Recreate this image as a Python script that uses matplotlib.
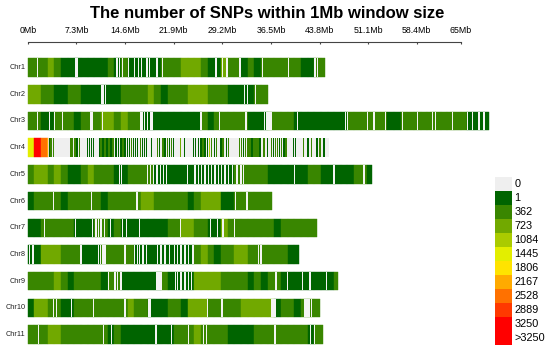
import matplotlib.pyplot as plt

plt.rcParams['font.family'] = ['Liberation Sans', 'DejaVu Sans']

# chromosomes and their lengths (Mb)
chrom_names = ["Chr%d" % i for i in range(1, 12)]
chrom_len_mb = [44.6, 36.0, 69.2, 45.2, 51.7, 36.6, 43.4, 40.7, 46.6, 43.8, 44.3]

# density class of each 1Mb window (index into legend, hex digit; 0 = no SNP)
bin_classes = [
    "22232 11111 11212 11111 22233 32113 22121 22222 21122",
    "33221 12211 11112 22232 12223 33222 11112 2",
    "22112 22122 23323 22111 11111 12122 22211 12222 11111 11122 22221 12222 22222 21111",
    "5a800 00000 00000 00000 00000 00000 00000 00000 00000 0",
    "23323 21123 22211 22221 11111 11111 12222 21111 11221 11112 21",
    "12222 12222 21222 22332 22221 23331 12222 22",
    "11222 22111 22121 11111 12233 22113 22222 22122 2222",
    "11333 22211 12222 21111 11111 23212 23322 22221 1",
    "22223 21222 21221 11111 21111 33332 22212 12211 11111 12",
    "13322 11222 22222 32211 12213 33222 22333 33122 1222",
    "22233 22222 22121 11111 11222 32222 11112 22222 22122",
]

# positions (Mb) of short stretches without SNPs
gap_mb = [
    [1.5, 7.25, 7.4, 13.4, 13.8, 14.25, 15.15, 16.0, 16.6, 17.1, 17.9, 18.3, 19.4,
     20.25, 28.25, 29.25, 29.9, 31.85, 35.25, 39.15, 43.1, 43.5],
    [11.15, 11.4, 11.65, 32.5, 33.0, 34.2],
    [1.5, 3.25, 4.0, 5.25, 9.5, 9.75, 11.25, 17.0, 17.25, 17.5, 18.0, 18.5, 18.75,
     26.0, 28.75, 32.75, 35.5, 35.9, 36.2, 36.5, 40.5, 47.75, 48.0, 51.0, 52.0,
     53.75, 56.25, 58.5, 60.75, 61.25, 63.75, 66.0, 66.75, 67.75, 68.5],
    [],
    [13.75, 14.1, 18.0, 18.4, 18.9, 19.4, 19.9, 20.4, 20.8, 24.0, 25.1, 25.6, 26.1,
     26.6, 27.1, 27.6, 28.1, 28.6, 29.1, 29.6, 30.1, 30.75, 31.4, 32.0, 32.4, 40.0,
     46.0, 50.5],
    [3.85, 9.6, 16.4, 31.15, 32.9],
    [2.5, 7.15, 9.75, 10.25, 10.6, 11.0, 11.5, 12.4, 14.25, 14.8, 16.75, 22.9, 27.4,
     28.5, 29.3, 31.0],
    [0.25, 0.8, 8.0, 10.6, 10.9, 11.3, 11.6, 14.6, 16.0, 16.5, 16.8, 17.3, 17.8,
     19.5, 20.0, 20.6, 21.25, 22.0, 22.5, 23.0, 23.6, 24.1, 24.8, 34.6, 35.0],
    [12.1, 13.1, 13.5, 14.0, 19.4, 19.7, 20.0, 22.15, 22.5, 23.0, 23.6, 24.1, 24.6,
     37.25, 39.0, 41.25, 42.35, 44.9],
    [3.85, 4.3, 6.6, 9.9, 14.6, 18.2, 18.4, 27.0, 29.15, 36.6, 36.8, 37.0, 37.2,
     41.6, 41.9, 42.2, 42.6],
    [1.6, 11.4, 12.6, 19.25, 21.6, 24.1, 26.4, 26.8, 37.1, 42.4, 43.0],
]

# Chr4 is sparse: isolated SNP clusters (Mb) and their density class
chr4_snp_mb = [2.95, 3.25, 3.5, 3.85, 6.5, 6.75, 7.1, 7.4, 7.75, 9.0, 9.25, 9.6, 9.9,
               10.75, 11.0, 11.3, 11.6, 11.9, 12.2, 12.5, 12.8, 13.25, 13.6, 14.0,
               14.3, 14.6, 15.0, 15.3, 15.6, 15.9, 16.2, 16.5, 16.9, 17.2, 17.5, 17.8,
               18.6, 19.5, 19.8, 20.3, 20.6, 21.0, 21.3, 21.6, 21.9, 22.9, 23.5, 24.9,
               25.2, 25.6, 26.0, 26.3, 26.6, 27.0, 27.3, 27.6, 28.0, 28.3, 29.0, 29.3,
               29.8, 30.1, 31.75, 32.05, 32.35, 32.65, 33.05, 33.35, 33.65, 33.95,
               34.25, 34.55, 34.85, 35.5, 36.0, 36.6, 36.9, 37.2, 37.5, 37.8, 38.1,
               38.5, 38.8, 39.9, 40.2, 41.4, 42.1, 42.6, 43.4, 43.9, 44.5]
chr4_snp_cls = ("7" "122" "22212" "1111" "12121212" "111211121112111" "1" "21212121"
                "3" "1" "1111211" "4" "2121212" "22122212221" "2121221212" "11" "212121")

legend_labels = ["0", "1", "362", "723", "1084", "1445", "1806", "2167",
                 "2528", "2889", "3250", ">3250"]
legend_colors = ["#EFEFEF", "#006400", "#398600", "#71A900", "#AACB00", "#E3EE00",
                 "#FFE300", "#FFAA00", "#FF7100", "#FF3900", "#FF0000", "#FF0000"]

tick_mb = [0, 7.3, 14.6, 21.9, 29.2, 36.5, 43.8, 51.1, 58.4, 65]
tick_labels = ["0Mb", "7.3Mb", "14.6Mb", "21.9Mb", "29.2Mb", "36.5Mb",
               "43.8Mb", "51.1Mb", "58.4Mb", "65Mb"]

# layout (x in Mb, y in pixels from top)
px0, px_per_mb = 27.8, 6.66
fig = plt.figure(figsize=(5.5, 3.49), dpi=100)
ax = fig.add_axes([0, 0, 1, 1])
ax.set_xlim(-px0 / px_per_mb, (550 - px0) / px_per_mb)
ax.set_ylim(349, 0)
ax.axis('off')

row_top, row_step, row_h = 58.3, 26.7, 18.5
for i, name in enumerate(chrom_names):
    y = row_top + row_step * i + row_h / 2
    L = chrom_len_mb[i]
    codes = [int(c, 16) for c in bin_classes[i].replace(" ", "")]
    ax.barh(y, L, left=0, height=row_h, color=legend_colors[0], linewidth=0)
    lefts = [k for k, c in enumerate(codes) if c > 0]
    widths = [min(1, L - k) for k in lefts]
    cols = [legend_colors[codes[k]] for k in lefts]
    ax.barh([y] * len(lefts), widths, left=lefts, height=row_h,
            color=cols, edgecolor=cols, linewidth=0.3)
    if gap_mb[i]:
        ax.barh([y] * len(gap_mb[i]), 0.2, left=[g - 0.1 for g in gap_mb[i]],
                height=row_h, color='#F4F4F4', linewidth=0)
    if name == "Chr4":
        cols4 = [legend_colors[int(c)] for c in chr4_snp_cls]
        ax.barh([y] * len(chr4_snp_mb), 0.22, left=[p - 0.11 for p in chr4_snp_mb],
                height=row_h, color=cols4, linewidth=0)
    ax.text(-0.35, y, name, ha='right', va='center', fontsize=5.3, color='#222222')

# top axis
ax.plot([0, tick_mb[-1]], [41.7, 41.7], color='#444444', lw=0.8)
ax.vlines(tick_mb, 41.7, 44, color='#444444', lw=0.8)
for t, lab in zip(tick_mb, tick_labels):
    ax.text(t, 33, lab, ha='center', va='baseline', fontsize=6.3)

ax.text((267.5 - px0) / px_per_mb, 17.7, "The number of SNPs within 1Mb window size",
        ha='center', va='baseline', fontsize=12, fontweight='bold')

# legend
lax = fig.add_axes([495 / 550, 4 / 349, 17 / 550, 168.3 / 349])
lax.set_xlim(0, 1)
lax.set_ylim(len(legend_labels), 0)
lax.axis('off')
lax.barh([k + 0.5 for k in range(len(legend_labels))], 1, height=1,
         color=legend_colors, linewidth=0)
for k, lab in enumerate(legend_labels):
    lax.text(1.13, k + 0.5, lab, ha='left', va='center', fontsize=7.8, clip_on=False)

fig.savefig("out.png", dpi=100)
